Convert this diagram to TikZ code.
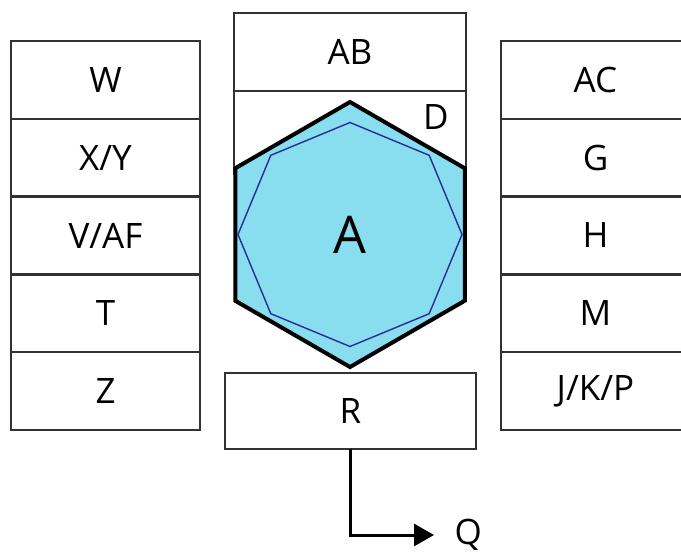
\documentclass[tikz,border=0pt]{standalone}
\usepackage{fontspec}
\setmainfont{Open Sans}
\usetikzlibrary{arrows.meta,shapes.geometric}
\definecolor{hexfill}{RGB}{136,221,238}
\definecolor{octline}{RGB}{40,44,150}
\definecolor{boxline}{RGB}{50,50,50}
\begin{document}
\begin{tikzpicture}[x=1pt,y=-1pt,
  lbl/.style={font=\fontsize{35}{35}\selectfont},
  cell/.style={lbl,draw=boxline,line width=2.4pt,minimum width=189pt,minimum height=77.8pt,inner sep=0pt,outer sep=0pt},
  wall/.style={draw=boxline,line width=2.4pt},
  hexshape/.style={regular polygon,regular polygon sides=6,shape border rotate=30,minimum size=265pt,inner sep=0pt,draw=black,fill=hexfill,line width=4pt},
  octshape/.style={regular polygon,regular polygon sides=8,shape border rotate=22.5,minimum size=224pt,inner sep=0pt,draw=octline,line width=1.4pt},
  flow/.style={line width=3pt,-{Triangle[length=20pt,width=22pt]}}]
\useasboundingbox (0,0) rectangle (681,554);

% left column
\node[cell] (W)  at (105.5,79.9)  {W};
\node[cell] (XY) at (105.5,157.7) {X/Y};
\node[cell] (VAF) at (105.5,235.5) {V/AF};
\node[cell] (T)  at (105.5,313.3) {T};
\node[cell] (Z)  at (105.5,391.1) {Z};

% right column (runs past the right edge)
\node[cell] (AC) at (595.5,79.9)  {AC};
\node[cell] (G)  at (595.5,157.7) {G};
\node[cell] (H)  at (595.5,235.5) {H};
\node[cell] (M)  at (595.5,313.3) {M};
\node[cell] (JKP) at (595.5,391.1) {J/K/P};

% centre stack
\node[cell,minimum width=232pt,minimum height=78pt] (AB) at (350,52) {AB};
\coordinate (dl) at (234,175);
\coordinate (dr) at (466,175);
\draw[wall] (AB.south west) -- (dl);
\draw[wall] (AB.south east) -- (dr);
\node[lbl] (D) at (436,117) {D};

\node[hexshape] (A) at (350,234.5) {};
\node[octshape] (oct) at (A.center) {};
\node[font=\fontsize{52}{52}\selectfont] (Alabel) at (A.center) {A};

\node[cell,minimum width=251pt,minimum height=76pt] (R) at (350.5,411) {R};

% output arrow
\coordinate (qend) at (434,535);
\node[lbl,anchor=west] (Q) at (451,535) {Q};
\draw[flow] (R.south) |- (qend);
\end{tikzpicture}
\end{document}
